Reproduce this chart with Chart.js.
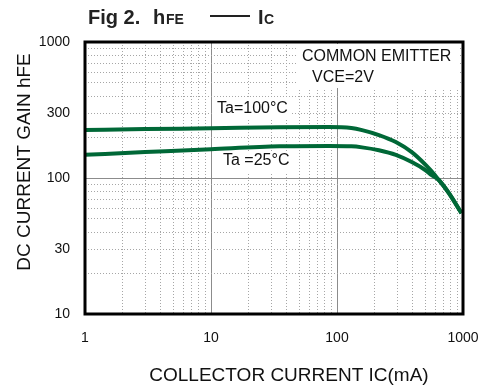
<!DOCTYPE html>
<html>
<head>
<meta charset="utf-8">
<script src="https://cdn.jsdelivr.net/npm/chart.js@4.4.1/dist/chart.umd.min.js"></script>
<style>
  html, body { margin: 0; padding: 0; background: #fff; overflow: hidden; }
  #wrap { width: 479px; height: 391px; position: relative; }
  canvas { display: block; }
</style>
</head>
<body>
<div id="wrap"><canvas id="hfeChart"></canvas></div>
<script>
const currentIc = [1, 3, 10, 35, 86, 130, 158, 215, 293, 392, 505, 564, 640, 768, 973];
const hfe100 = [225, 229, 232, 236, 237, 233, 225, 207, 184, 155, 125, 112, 97, 78, 55];
const hfe25 = [148, 155, 163, 171, 172, 171, 168, 160, 148, 131, 114, 105, 97, 78, 55];

const xTickLabels = [1, 10, 100, 1000];
const yTickLabels = [10, 30, 100, 300, 1000];
const xMajorGrid = [10, 100];
const yMajorGrid = [100];

const fontFamily = "'Liberation Sans', Arial, sans-serif";
const curveColor = "#006837";

function decadeTicks(min, max) {
  const out = [];
  for (let d = min; d < max; d *= 10) {
    for (let k = 1; k < 10; k++) out.push(d * k);
  }
  out.push(max);
  return out;
}

function toPoints(ys) {
  return currentIc.map((x, i) => ({ x, y: ys[i] }));
}

function gridFor(majors) {
  return {
    drawTicks: false,
    lineWidth: 1,
    color: (ctx) => majors.includes(ctx.tick && ctx.tick.value) ? "#8c8c8c" : "#a6a6a6"
  };
}

function borderFor(majors) {
  return {
    display: false,
    dash: (ctx) => majors.includes(ctx.tick && ctx.tick.value) ? [] : [1, 2]
  };
}

const chartDecor = {
  id: "chartDecor",
  beforeDatasetsDraw(chart) {
    const { ctx } = chart;
    ctx.save();
    ctx.fillStyle = "#fff";
    ctx.fillRect(298, 44, 161, 44);
    ctx.fillRect(213, 99, 78, 21);
    ctx.fillRect(219, 151, 74, 21);

    ctx.fillStyle = "#111";
    ctx.font = "16px " + fontFamily;
    ctx.textBaseline = "middle";
    ctx.textAlign = "left";
    ctx.fillText("COMMON EMITTER", 302, 57);
    ctx.fillText("VCE=2V", 312, 78);
    ctx.fillText("Ta=100°C", 217, 109);
    ctx.fillText("Ta =25°C", 223, 161);
    ctx.restore();
  },
  afterDraw(chart) {
    const { ctx, chartArea: a } = chart;
    ctx.save();
    ctx.strokeStyle = "#000";
    ctx.lineWidth = 3;
    ctx.strokeRect(a.left, a.top, a.right - a.left, a.bottom - a.top);

    // title
    ctx.fillStyle = "#222";
    ctx.textBaseline = "alphabetic";
    ctx.textAlign = "left";
    ctx.font = "bold 20px " + fontFamily;
    ctx.fillText("Fig 2.", 88, 24);
    ctx.fillText("h", 153, 24);
    ctx.fillText("I", 258, 24);
    ctx.font = "bold 14px " + fontFamily;
    ctx.fillText("FE", 166, 24);
    ctx.fillText("C", 264, 24);
    ctx.lineWidth = 2;
    ctx.strokeStyle = "#222";
    ctx.beginPath();
    ctx.moveTo(210, 16);
    ctx.lineTo(250, 16);
    ctx.stroke();

    // axis titles
    ctx.fillStyle = "#111";
    ctx.font = "19px " + fontFamily;
    ctx.textAlign = "center";
    ctx.textBaseline = "middle";
    ctx.fillText("COLLECTOR CURRENT IC(mA)", 289, 376);
    ctx.translate(25, 162);
    ctx.rotate(-Math.PI / 2);
    ctx.fillText("DC CURRENT GAIN hFE", 0, 0);
    ctx.restore();
  }
};

new Chart(document.getElementById("hfeChart"), {
  type: "line",
  data: {
    datasets: [
      { label: "Ta=100°C", data: toPoints(hfe100) },
      { label: "Ta=25°C", data: toPoints(hfe25) }
    ]
  },
  options: {
    responsive: true,
    maintainAspectRatio: false,
    animation: false,
    layout: { autoPadding: false, padding: { top: 42, right: 0, left: 0, bottom: 0 } },
    elements: {
      line: { borderColor: curveColor, borderWidth: 4, cubicInterpolationMode: "monotone", fill: false },
      point: { radius: 0, hoverRadius: 0 }
    },
    plugins: { legend: { display: false }, tooltip: { enabled: false } },
    scales: {
      x: {
        type: "logarithmic",
        min: 1,
        max: 1000,
        afterBuildTicks: (scale) => { scale.ticks = decadeTicks(1, 1000).map((value) => ({ value })); },
        afterFit: (scale) => { scale.height = 77; scale.paddingRight = 16; scale.paddingLeft = 0; },
        grid: gridFor(xMajorGrid),
        border: borderFor(xMajorGrid),
        ticks: {
          autoSkip: false,
          maxRotation: 0,
          padding: 16,
          color: "#111",
          font: { family: fontFamily, size: 14 },
          callback: (value) => xTickLabels.includes(value) ? String(value) : ""
        }
      },
      y: {
        type: "logarithmic",
        min: 10,
        max: 1000,
        afterBuildTicks: (scale) => { scale.ticks = decadeTicks(10, 1000).map((value) => ({ value })); },
        afterFit: (scale) => { scale.width = 85; scale.paddingTop = 0; scale.paddingBottom = 0; },
        grid: gridFor(yMajorGrid),
        border: borderFor(yMajorGrid),
        ticks: {
          autoSkip: false,
          padding: 15,
          color: "#111",
          font: { family: fontFamily, size: 14 },
          callback: (value) => yTickLabels.includes(value) ? String(value) : ""
        }
      }
    }
  },
  plugins: [chartDecor]
});
</script>
</body>
</html>
